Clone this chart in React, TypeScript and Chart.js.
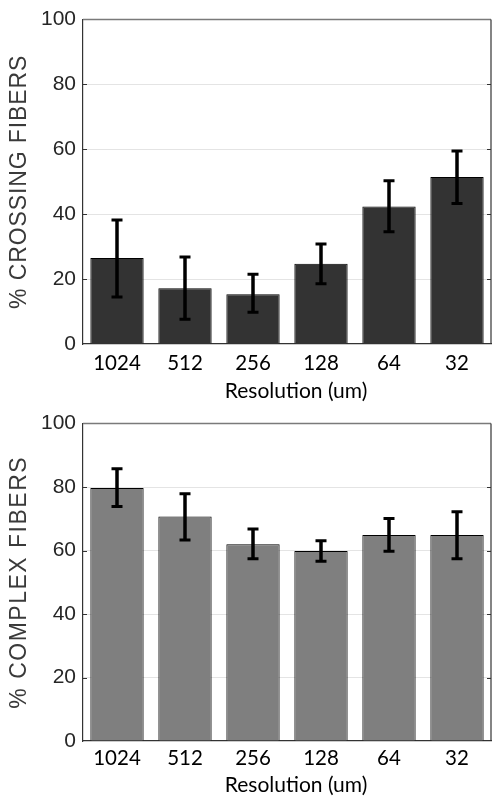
import React, { useEffect, useRef } from "react";
import { Chart, registerables } from "chart.js";

Chart.register(...registerables);

const categories = ["1024", "512", "256", "128", "64", "32"];
const crossingValues = [26.5, 17.2, 15.3, 24.7, 42.4, 51.5];
const crossingUpper = [38.2, 26.8, 21.5, 30.8, 50.3, 59.5];
const crossingLower = [14.5, 7.6, 9.8, 18.6, 34.6, 43.3];
const complexValues = [79.7, 70.7, 62.0, 59.9, 64.9, 64.9];
const complexUpper = [85.8, 77.9, 66.8, 63.1, 70.1, 72.2];
const complexLower = [73.9, 63.3, 57.4, 56.6, 59.8, 57.4];
const yTicks = [0, 20, 40, 60, 80, 100];
const xTitle = "Resolution (um)";
const crossingTitle = "% CROSSING FIBERS";
const complexTitle = "% COMPLEX FIBERS";

type PanelProps = {
  height: number;
  values: number[];
  upper: number[];
  lower: number[];
  color: string;
  yTitle: string;
  padTop: number;
  plotBottom: number;
  xTickPad: number;
  titleBaseline: number;
  spacing: number;
};

function BarPanel(p: PanelProps) {
  const ref = useRef<HTMLCanvasElement | null>(null);
  useEffect(() => {
    const canvas = ref.current;
    if (!canvas) return;
    const decor = {
      id: "decor",
      afterDraw(chart: any) {
        const ctx = chart.ctx;
        const area = chart.chartArea;
        const ys = chart.scales.y;
        const meta = chart.getDatasetMeta(0);
        ctx.save();
        // error bars
        ctx.strokeStyle = "#000";
        ctx.lineCap = "butt";
        for (let i = 0; i < p.values.length; i++) {
          const x = meta.data[i].x;
          const yU = ys.getPixelForValue(p.upper[i]);
          const yL = ys.getPixelForValue(p.lower[i]);
          ctx.lineWidth = 3.5;
          ctx.beginPath();
          ctx.moveTo(x, yU);
          ctx.lineTo(x, yL);
          ctx.stroke();
          ctx.lineWidth = 3;
          ctx.beginPath();
          ctx.moveTo(x - 5.5, yU);
          ctx.lineTo(x + 5.5, yU);
          ctx.moveTo(x - 5.5, yL);
          ctx.lineTo(x + 5.5, yL);
          ctx.stroke();
        }
        // frame
        ctx.lineWidth = 1.5;
        ctx.strokeStyle = "#7a7a7a";
        ctx.beginPath();
        ctx.moveTo(area.left, area.top);
        ctx.lineTo(area.right, area.top);
        ctx.stroke();
        ctx.lineWidth = 1.2;
        ctx.strokeStyle = "#333";
        ctx.beginPath();
        ctx.moveTo(area.right, area.top);
        ctx.lineTo(area.right, area.bottom);
        ctx.stroke();
        // inward ticks
        ctx.lineWidth = 1;
        for (const v of yTicks) {
          if (v === 0 || v === 100) continue;
          const y = Math.round(ys.getPixelForValue(v)) + 0.5;
          ctx.beginPath();
          ctx.moveTo(area.left, y);
          ctx.lineTo(area.left + 4, y);
          ctx.moveTo(area.right, y);
          ctx.lineTo(area.right - 4, y);
          ctx.stroke();
        }
        // y title
        ctx.fillStyle = "#3a3a3a";
        ctx.font = '23px "Liberation Sans", Arial, sans-serif';
        (ctx as any).letterSpacing = p.spacing + "px";
        ctx.textAlign = "center";
        ctx.textBaseline = "middle";
        ctx.translate(19.5, (area.top + area.bottom) / 2);
        ctx.rotate(-Math.PI / 2);
        ctx.fillText(p.yTitle, 0, 0);
        ctx.restore();
        // x title
        ctx.save();
        ctx.fillStyle = "#000";
        ctx.font = '21px Lato, sans-serif';
        ctx.textAlign = "center";
        ctx.textBaseline = "alphabetic";
        ctx.fillText(xTitle, (area.left + area.right) / 2 + 9, p.titleBaseline);
        ctx.restore();
      },
    };
    const chart = new Chart(canvas, {
      type: "bar",
      data: {
        labels: categories,
        datasets: [
          {
            data: p.values,
            backgroundColor: p.color,
            borderColor: "#000",
            borderWidth: 1,
            barPercentage: 0.784,
            categoryPercentage: 1,
          },
        ],
      },
      options: {
        responsive: false,
        animation: false,
        devicePixelRatio: 1,
        layout: { padding: { top: p.padTop, right: 11, left: 0, bottom: 0 } },
        plugins: { legend: { display: false }, tooltip: { enabled: false } },
        scales: {
          x: {
            grid: { display: false, drawTicks: false },
            border: { display: true, color: "#333", width: 1.2 },
            ticks: {
              font: { family: "Lato", size: 20.5 },
              color: "#000",
              padding: p.xTickPad,
              maxRotation: 0,
              autoSkip: false,
            },
            afterFit: (s: any) => {
              s.height = p.height - p.plotBottom;
            },
          },
          y: {
            min: 0,
            max: 100,
            afterBuildTicks: (s: any) => {
              s.ticks = yTicks.map((v) => ({ value: v }));
            },
            ticks: {
              font: { family: '"Liberation Sans"', size: 21 },
              color: "#262626",
              padding: 7,
            },
            grid: {
              color: (c: any) =>
                c.tick && (c.tick.value === 0 || c.tick.value === 100) ? "rgba(0,0,0,0)" : "#e4e4e4",
              drawTicks: false,
              lineWidth: 1,
            },
            border: { display: true, color: "#333", width: 1.2 },
            afterFit: (s: any) => {
              s.width = 83;
            },
          },
        },
      },
      plugins: [decor],
    } as any);
    return () => chart.destroy();
  }, []);
  return <canvas ref={ref} width={502} height={p.height} style={{ display: "block" }} />;
}

export default function App() {
  return (
    <div style={{ position: "absolute", left: 0, top: 0, width: 502, height: 806, background: "#fff" }}>
      <BarPanel
        height={404}
        values={crossingValues}
        upper={crossingUpper}
        lower={crossingLower}
        color="#333333"
        yTitle={crossingTitle}
        padTop={18}
        plotBottom={344}
        xTickPad={7}
        titleBaseline={397.5}
        spacing={0.9}
      />
      <BarPanel
        height={402}
        values={complexValues}
        upper={complexUpper}
        lower={complexLower}
        color="#7f7f7f"
        yTitle={complexTitle}
        padTop={10.7}
        plotBottom={337}
        xTickPad={5}
        titleBaseline={388}
        spacing={1.5}
      />
    </div>
  );
}
